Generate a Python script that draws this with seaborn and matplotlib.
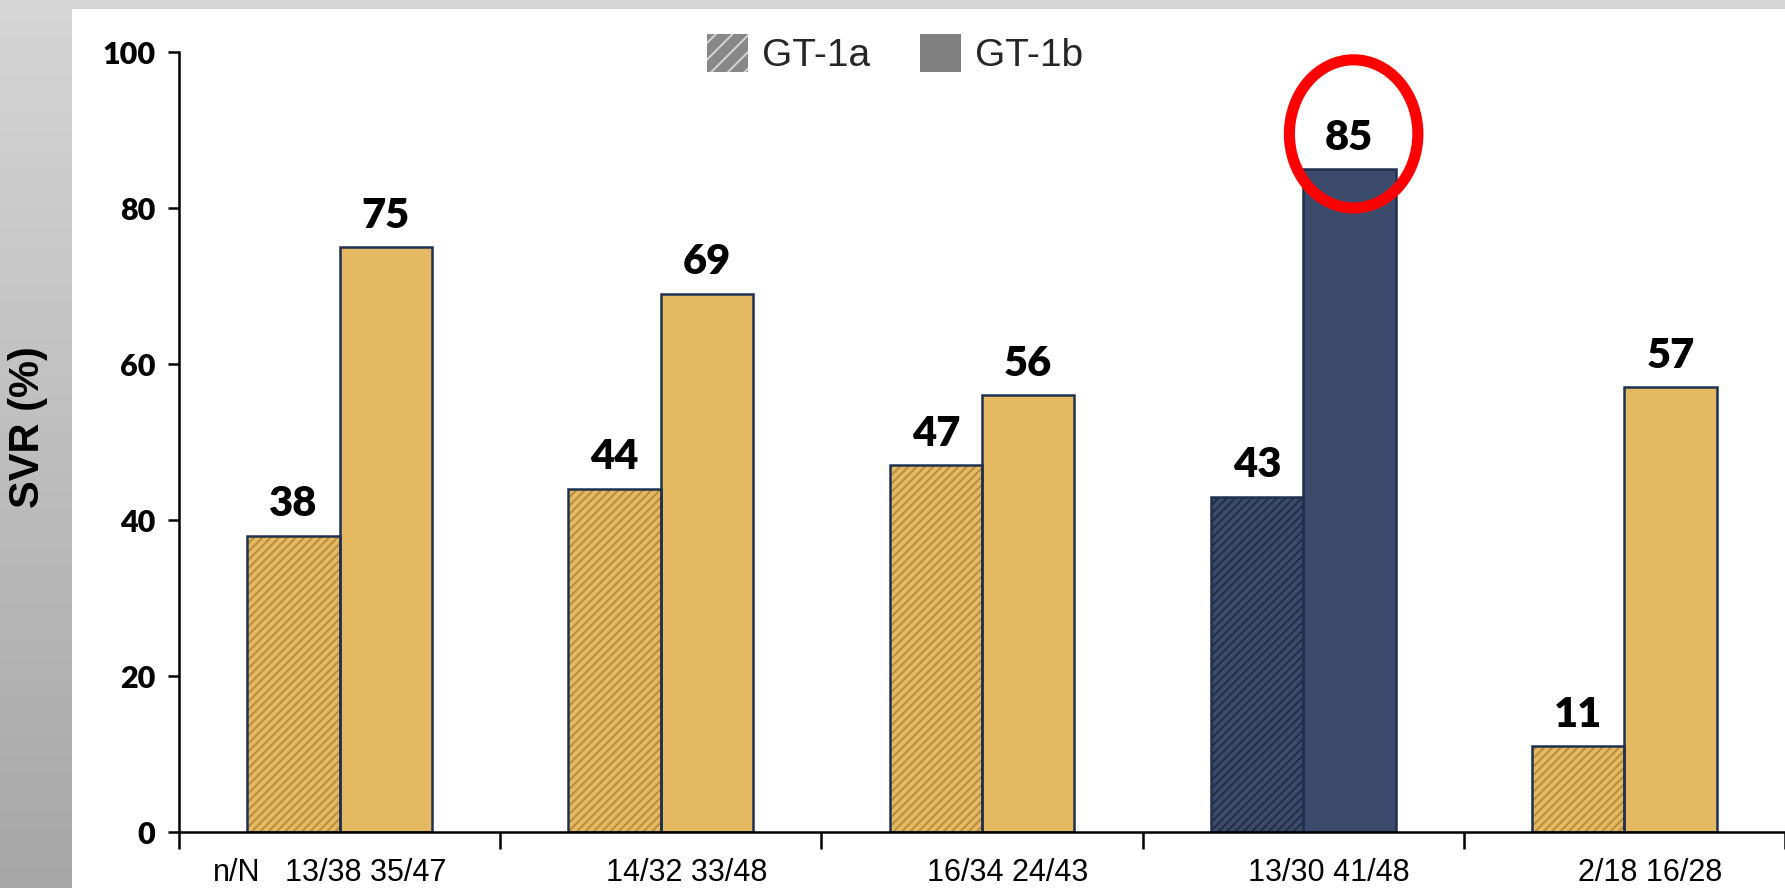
import numpy as np
import pandas as pd
import matplotlib
matplotlib.use("Agg")
import matplotlib.pyplot as plt
import seaborn as sns
from matplotlib.patches import Rectangle, Ellipse, Patch
from matplotlib.colors import LinearSegmentedColormap

# ---------------- data ----------------
groups = ["G1", "G2", "G3", "G4", "G5"]
genotypes = ["GT-1a", "GT-1b"]
svr_1a = [38, 44, 47, 43, 11]
svr_1b = [75, 69, 56, 85, 57]
nN_1a = ["13/38", "14/32", "16/34", "13/30", "2/18"]
nN_1b = ["35/47", "33/48", "24/43", "41/48", "16/28"]
nN_header = "n/N"
ylabel = "SVR (%)"
yticks = [0, 20, 40, 60, 80, 100]
highlight_group = "G4"

df = pd.DataFrame({
    "group": groups * 2,
    "genotype": [genotypes[0]] * len(groups) + [genotypes[1]] * len(groups),
    "svr": svr_1a + svr_1b,
})

# ---------------- style ----------------
sns.set_theme(style="white")
plt.rcParams["font.family"] = ["Liberation Sans", "DejaVu Sans"]
plt.rcParams["hatch.linewidth"] = 1.4

GOLD = "#E5B962"
GOLD_HATCH = "#B98B3C"
NAVY = "#3C4A6C"
NAVY_HATCH = "#222D45"
EDGE = "#1E3150"

W, H = 1785, 888
fig = plt.figure(figsize=(W / 100, H / 100), dpi=100)

# background: gray gradient frame with white panel
bg = fig.add_axes([0, 0, 1, 1], zorder=-10)
grad = np.linspace(0, 1, 256).reshape(-1, 1)
bg.imshow(grad, aspect="auto", extent=[0, 1, 0, 1], origin="upper",
          cmap=LinearSegmentedColormap.from_list("g", ["#d6d6d6", "#a7a7a7"]))
bg.add_patch(Rectangle((72 / W, 0), 1, 1 - 9 / H, facecolor="white", edgecolor="none"))
bg.set_xlim(0, 1)
bg.set_ylim(0, 1)
bg.axis("off")

left, right, bottom, top = 179, 1785, 832, 52
ax = fig.add_axes([left / W, 1 - bottom / H, (right - left) / W, (bottom - top) / H])
ax.patch.set_alpha(0)

sns.barplot(data=df, x="group", y="svr", hue="genotype", order=groups,
            hue_order=genotypes, width=0.575, dodge=True, saturation=1,
            legend=False, ax=ax, errorbar=None)

hi_idx = groups.index(highlight_group)
for c_idx, container in enumerate(ax.containers):
    for g, bar in enumerate(container):
        navy = (g == hi_idx)
        bar.set_facecolor(NAVY if navy else GOLD)
        if c_idx == 0:
            bar.set_hatch("////")
            bar.set_edgecolor(NAVY_HATCH if navy else GOLD_HATCH)
            bar.set_linewidth(0)
            ax.add_patch(Rectangle(bar.get_xy(), bar.get_width(), bar.get_height(),
                                   fill=False, edgecolor=EDGE, linewidth=1.8,
                                   zorder=bar.get_zorder() + 0.1))
        else:
            bar.set_edgecolor(EDGE)
            bar.set_linewidth(1.8)
    ax.bar_label(container, fmt="%d", padding=9, fontsize=30,
                 fontweight="heavy", family="Lato", color="black")

ax.set_xlim(-0.5, len(groups) - 0.5)
ax.set_ylim(0, 100)

# axes / spines
sns.despine(ax=ax, top=True, right=True)
for s in ("left", "bottom"):
    ax.spines[s].set_linewidth(1.8)
    ax.spines[s].set_color("black")

ax.set_xlabel("")
ax.set_ylabel("")
ax.set_xticks(np.arange(-0.5, len(groups), 1.0))
ax.set_xticklabels([])
ax.tick_params(axis="x", which="major", direction="out", length=12, width=1.8,
               color="black", bottom=True)

minor_pos = [-0.32] + [i + 0.08 for i in range(len(groups))]
minor_lab = [nN_header] + [f"{a} {b}" for a, b in zip(nN_1a, nN_1b)]
ax.set_xticks(minor_pos, minor=True)
ax.set_xticklabels(minor_lab, minor=True, fontsize=22, family="Liberation Sans")
ax.tick_params(axis="x", which="minor", length=0, pad=19, labelcolor="black")

ax.set_yticks(yticks)
ax.set_yticklabels([str(v) for v in yticks], fontsize=22, fontweight="heavy",
                   family="Lato")
ax.tick_params(axis="y", direction="out", length=8, width=1.8, pad=9,
               color="black", left=True, labelcolor="black")

# highlight ellipse around the top value
ax.add_patch(Ellipse((hi_idx + 0.157, 89.5), 0.40, 19, fill=False,
                     edgecolor="#FF0000", linewidth=8, clip_on=False, zorder=10))

# y label in grey strip
fig.text(28 / W, 1 - 427 / H, ylabel, rotation=90, ha="center", va="center",
         fontsize=30, fontweight="bold", family="Liberation Sans", color="black")

# legend
handles = [Patch(facecolor="#888888", edgecolor="#d6d6d6", hatch="//", linewidth=0),
           Patch(facecolor="#808080", edgecolor="none", linewidth=0)]
fig.legend(handles, genotypes, loc="center", bbox_to_anchor=(895 / W, 1 - 54 / H),
           ncol=2, frameon=False, handlelength=1.05, handleheight=1.15,
           handletextpad=0.35, columnspacing=1.3,
           prop={"family": "Liberation Sans", "size": 28})

fig.savefig("out.png", dpi=100)
